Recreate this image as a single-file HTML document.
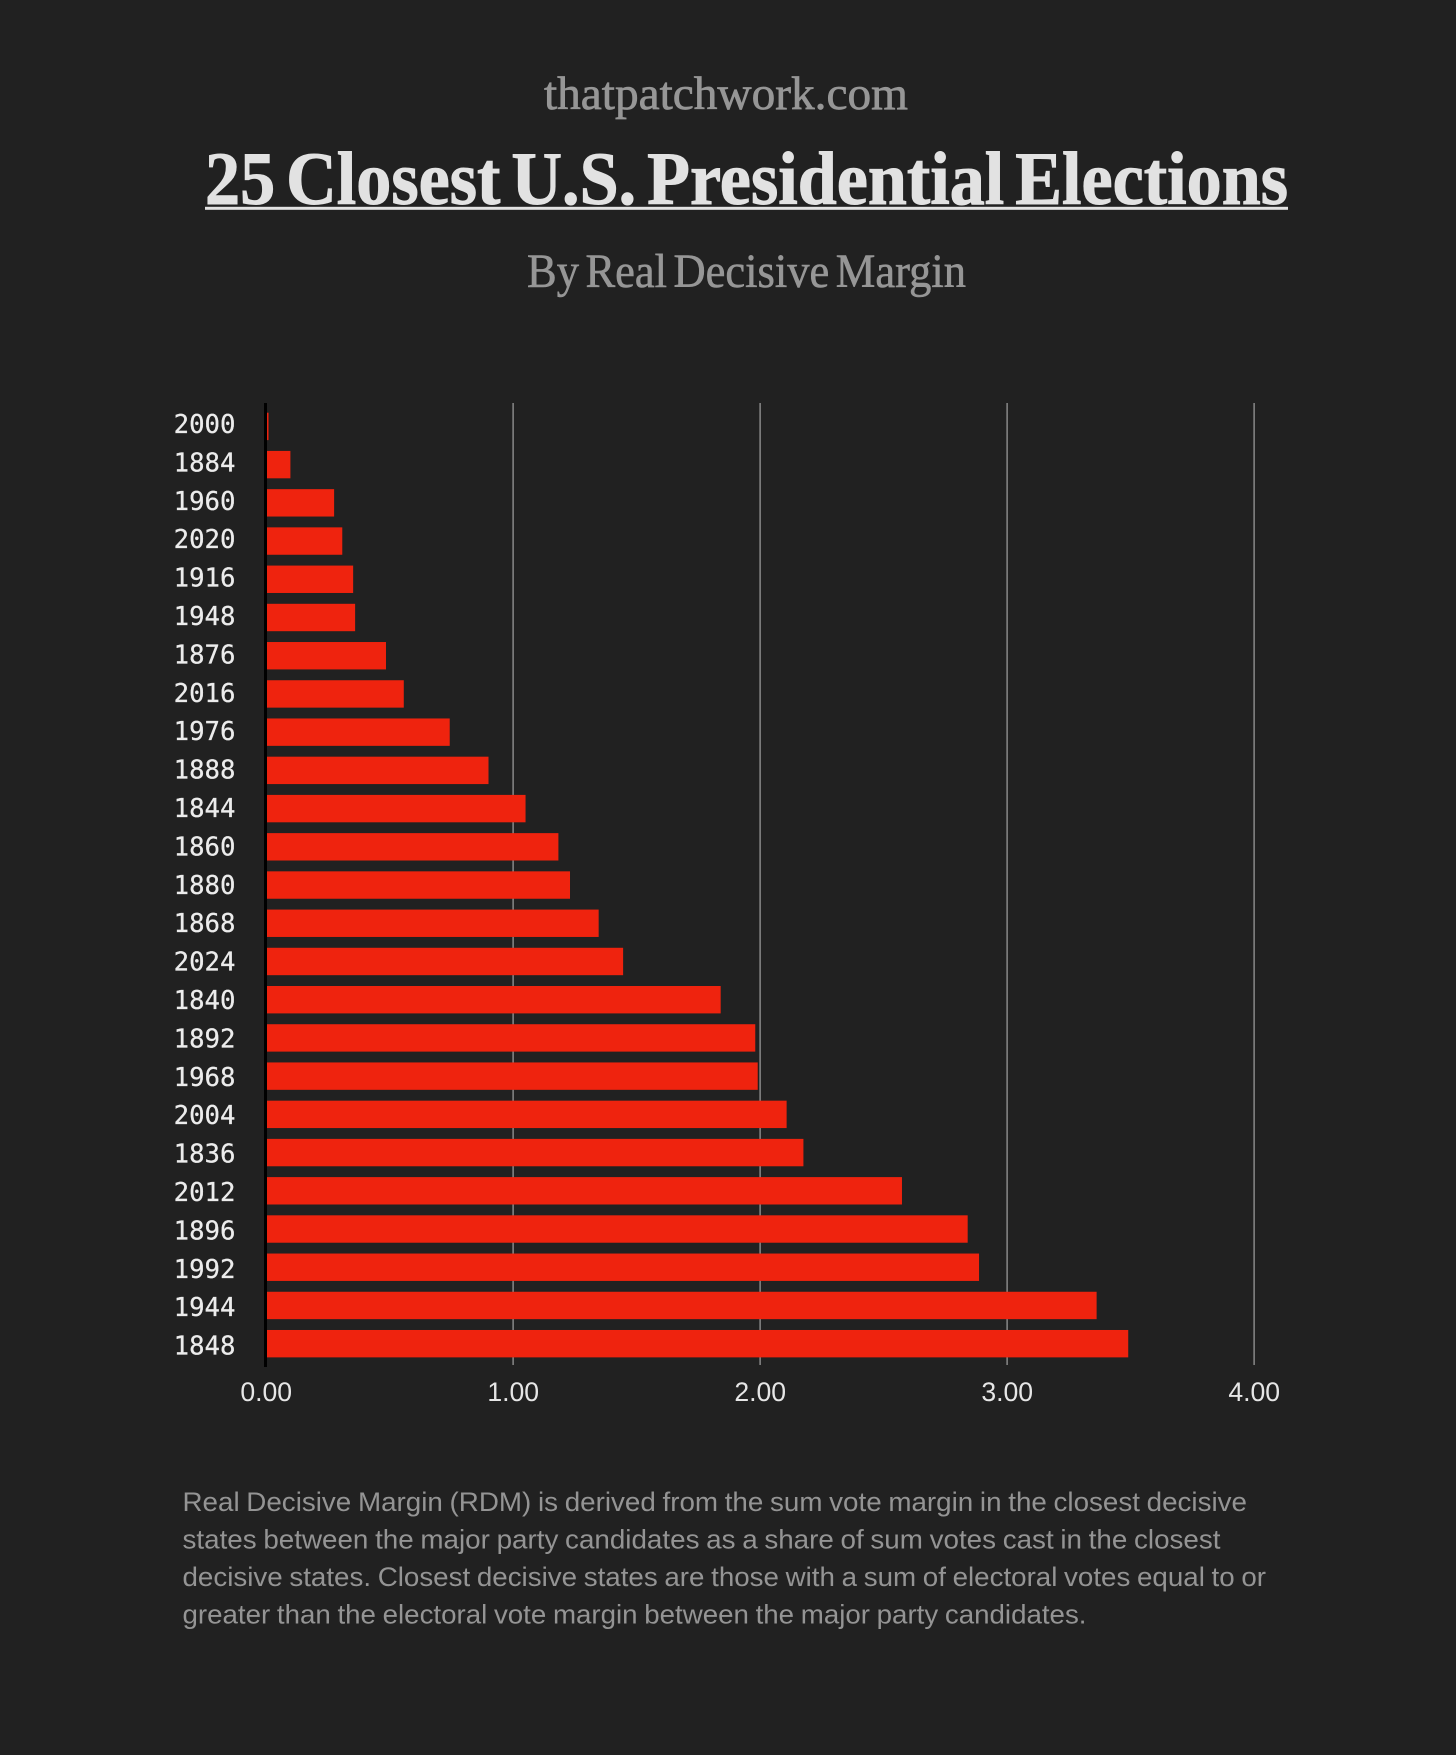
<!DOCTYPE html>
<html lang="en">
<head>
<meta charset="utf-8">
<title>25 Closest U.S. Presidential Elections</title>
<style>
html,body{margin:0;padding:0;background:#212121;}
svg{display:block;}
.serif{font-family:"Liberation Serif",serif;}
.sans{font-family:"Liberation Sans",sans-serif;}
.mono{font-family:"DejaVu Sans Mono","Liberation Mono",monospace;}
</style>
</head>
<body>
<svg id="page" width="1456" height="1755" viewBox="0 0 1456 1755" xmlns="http://www.w3.org/2000/svg">
  <rect width="1456" height="1755" fill="#212121"/>
  <text class="serif" x="544" y="109" font-size="47" fill="#969696" stroke="#969696" stroke-width="0.7" textLength="364" lengthAdjust="spacingAndGlyphs">thatpatchwork.com</text>
  <text class="serif" x="205" y="204" font-size="75" font-weight="700" fill="#e2e2e2" stroke="#e2e2e2" stroke-width="1" word-spacing="-7" textLength="1083" lengthAdjust="spacingAndGlyphs">25 Closest U.S. Presidential Elections</text>
  <rect x="205" y="206.8" width="1083" height="3" fill="#e2e2e2"/>
  <text class="serif" x="527" y="287" font-size="48" fill="#969696" stroke="#969696" stroke-width="0.6" word-spacing="-5" textLength="439" lengthAdjust="spacingAndGlyphs">By Real Decisive Margin</text>
  <g id="grid"></g>
  <g id="bars"></g>
  <rect x="264" y="403" width="3" height="964" fill="#000000"/>
  <g id="ylabels"></g>
  <g id="xlabels"></g>
  <g class="sans" font-size="27" fill="#949494" word-spacing="-1">
    <text x="182.5" y="1511" textLength="1064.5" lengthAdjust="spacingAndGlyphs">Real Decisive Margin (RDM) is derived from the sum vote margin in the closest decisive</text>
    <text x="182.5" y="1548.5" textLength="1038" lengthAdjust="spacingAndGlyphs">states between the major party candidates as a share of sum votes cast in the closest</text>
    <text x="182.5" y="1586" textLength="1083.5" lengthAdjust="spacingAndGlyphs">decisive states. Closest decisive states are those with a sum of electoral votes equal to or</text>
    <text x="182.5" y="1623.5" textLength="904" lengthAdjust="spacingAndGlyphs">greater than the electoral vote margin between the major party candidates.</text>
  </g>
</svg>
<script>
const years = ["2000","1884","1960","2020","1916","1948","1876","2016","1976","1888","1844","1860","1880","1868","2024","1840","1892","1968","2004","1836","2012","1896","1992","1944","1848"];
const margins = [0.009,0.098,0.275,0.308,0.352,0.36,0.485,0.557,0.743,0.90,1.05,1.183,1.23,1.346,1.445,1.84,1.98,1.99,2.107,2.175,2.574,2.84,2.886,3.362,3.49];
const xTicks = [0,1,2,3,4];
const xTickLabels = ["0.00","1.00","2.00","3.00","4.00"];

const NS = 'http://www.w3.org/2000/svg';
function xScale(v){ return 266.2 + v * 247; }
function barTop(i){ return 412.7 + i * 38.22; }
function labelBaseline(i){ return 433 + i * 38.4; }

const gridGroup = document.getElementById('grid');
const barGroup = document.getElementById('bars');
const yGroup = document.getElementById('ylabels');
const xGroup = document.getElementById('xlabels');

xTicks.forEach(function(t, i){
  if (t > 0) {
    const line = document.createElementNS(NS, 'rect');
    
    
    line.setAttribute('x', xScale(t) - 0.75);
    line.setAttribute('y', 403);
    line.setAttribute('width', 1.3);
    line.setAttribute('height', 962);
    line.setAttribute('fill', '#979797');
    gridGroup.appendChild(line);
  }
  const label = document.createElementNS(NS, 'text');
  
  
  label.setAttribute('x', xScale(t));
  label.setAttribute('y', 1400.8);
  label.setAttribute('text-anchor', 'middle');
  label.setAttribute('font-size', '26.6');
  label.setAttribute('fill', '#e6e6e6');
  label.setAttribute('class', 'sans');
  label.textContent = xTickLabels[i];
  xGroup.appendChild(label);
});

years.forEach(function(year, i){
  const bar = document.createElementNS(NS, 'rect');
  
  
  bar.setAttribute('x', 267);
  bar.setAttribute('y', barTop(i));
  bar.setAttribute('width', Math.max(xScale(margins[i]) - 267, 1.5));
  bar.setAttribute('height', 27.4);
  bar.setAttribute('fill', '#ef230e');
  barGroup.appendChild(bar);

  const label = document.createElementNS(NS, 'text');
  
  
  label.setAttribute('x', 235.5);
  label.setAttribute('y', labelBaseline(i));
  label.setAttribute('text-anchor', 'end');
  label.setAttribute('font-size', '25.7');
  label.setAttribute('fill', '#ececec');
  label.setAttribute('stroke', '#ececec');
  label.setAttribute('stroke-width', '0.25');
  label.setAttribute('class', 'mono');
  label.textContent = year;
  yGroup.appendChild(label);
});
</script>
</body>
</html>
